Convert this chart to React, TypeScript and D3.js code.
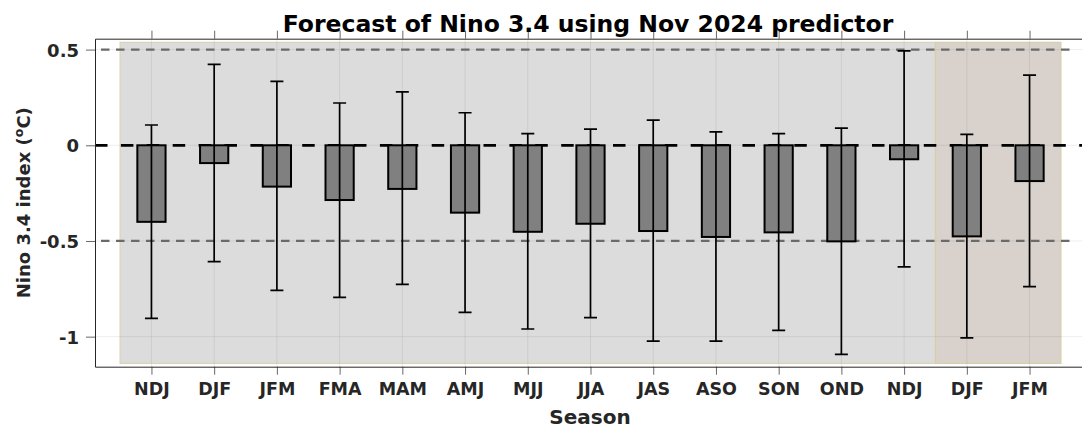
import React, { useEffect, useRef } from "react";
import * as d3 from "d3";

const seasons = ["NDJ", "DJF", "JFM", "FMA", "MAM", "AMJ", "MJJ", "JJA", "JAS", "ASO", "SON", "OND", "NDJ", "DJF", "JFM"];
const forecast = [-0.4, -0.093, -0.216, -0.286, -0.228, -0.352, -0.452, -0.41, -0.448, -0.479, -0.455, -0.502, -0.073, -0.476, -0.187];
const upper = [0.106, 0.423, 0.334, 0.221, 0.279, 0.17, 0.061, 0.084, 0.131, 0.07, 0.061, 0.09, 0.493, 0.057, 0.367];
const lower = [-0.904, -0.608, -0.758, -0.795, -0.727, -0.873, -0.96, -0.901, -1.023, -1.023, -0.967, -1.093, -0.635, -1.006, -0.739];
const yTicks = [-1, -0.5, 0, 0.5];
const yTickLabels = ["-1", "-0.5", "0", "0.5"];

const W = 1082;
const H = 428;
const font = "'DejaVu Sans', sans-serif";

const App = () => {
  const svgRef = useRef(null);

  useEffect(() => {
    const margin = { top: 38.7, left: 95, bottom: 366.7, right: 1086 };
    const svg = d3.select(svgRef.current);
    svg.selectAll("*").remove();

    const x = d3.scaleLinear([0.1, 15.9], [margin.left, margin.right]);
    const y = d3.scaleLinear([-1.157, 0.557], [margin.bottom, margin.top]);
    const idx = seasons.map((_, i) => i + 1);

    svg.append("clipPath").attr("id", "plot-area")
      .append("rect")
      .attr("x", margin.left).attr("y", margin.top)
      .attr("width", margin.right - margin.left).attr("height", margin.bottom - margin.top);

    const plot = svg.append("g").attr("clip-path", "url(#plot-area)");

    // shaded periods
    plot.append("rect")
      .attr("x", x(0.5)).attr("y", y(0.538))
      .attr("width", x(13.5) - x(0.5)).attr("height", y(-1.14) - y(0.538))
      .attr("fill", "#dcdcdc").attr("stroke", "#d9d4b4").attr("stroke-width", 1.2);
    plot.append("rect")
      .attr("x", x(13.5)).attr("y", y(0.538))
      .attr("width", x(15.5) - x(13.5)).attr("height", y(-1.14) - y(0.538))
      .attr("fill", "#d8d1cc").attr("stroke", "#d6cfa8").attr("stroke-width", 1.2);

    // grid
    plot.selectAll(".vgrid").data(idx).join("line")
      .attr("x1", (d) => x(d)).attr("x2", (d) => x(d))
      .attr("y1", margin.top).attr("y2", margin.bottom)
      .attr("stroke", "#262626").attr("stroke-opacity", 0.08).attr("stroke-width", 1);
    plot.selectAll(".hgrid").data(yTicks).join("line")
      .attr("x1", margin.left).attr("x2", margin.right)
      .attr("y1", (d) => y(d)).attr("y2", (d) => y(d))
      .attr("stroke", "#262626").attr("stroke-opacity", 0.08).attr("stroke-width", 1);

    // +-0.5 reference lines
    plot.selectAll(".ref").data([0.5, -0.5]).join("line")
      .attr("x1", margin.left - 9).attr("x2", 1076)
      .attr("y1", (d) => y(d)).attr("y2", (d) => y(d))
      .attr("stroke", "#6a6a6a").attr("stroke-width", 2.2)
      .attr("stroke-dasharray", "8.5,6.5");

    // zero line
    plot.append("line")
      .attr("x1", margin.left).attr("x2", margin.right)
      .attr("y1", y(0)).attr("y2", y(0))
      .attr("stroke", "#000").attr("stroke-width", 2.8)
      .attr("stroke-dasharray", "12.5,13.4");

    // bars
    const bw = x(0.45) - x(0);
    plot.selectAll(".bar").data(forecast).join("rect")
      .attr("x", (_, i) => x(i + 1) - bw / 2)
      .attr("y", (d) => Math.min(y(d), y(0)))
      .attr("width", bw)
      .attr("height", (d) => Math.abs(y(d) - y(0)))
      .attr("fill", "#808080").attr("stroke", "#000").attr("stroke-width", 2);

    // error bars
    const cap = 6.5;
    const eb = plot.selectAll(".err").data(idx).join("g");
    eb.append("line")
      .attr("x1", (d) => x(d)).attr("x2", (d) => x(d))
      .attr("y1", (d) => y(upper[d - 1])).attr("y2", (d) => y(lower[d - 1]))
      .attr("stroke", "#000").attr("stroke-width", 1.7);
    eb.append("line")
      .attr("x1", (d) => x(d) - cap).attr("x2", (d) => x(d) + cap)
      .attr("y1", (d) => y(upper[d - 1])).attr("y2", (d) => y(upper[d - 1]))
      .attr("stroke", "#000").attr("stroke-width", 1.7);
    eb.append("line")
      .attr("x1", (d) => x(d) - cap).attr("x2", (d) => x(d) + cap)
      .attr("y1", (d) => y(lower[d - 1])).attr("y2", (d) => y(lower[d - 1]))
      .attr("stroke", "#000").attr("stroke-width", 1.7);

    // axes
    const xAxis = d3.axisBottom(x).tickValues(idx).tickFormat((d) => seasons[+d - 1])
      .tickSizeInner(8).tickSizeOuter(0).tickPadding(8);
    const gx = svg.append("g").attr("transform", `translate(0,${margin.bottom})`).call(xAxis);
    const xTop = d3.axisTop(x).tickValues(idx).tickFormat(() => "").tickSizeInner(8).tickSizeOuter(0);
    const gxt = svg.append("g").attr("transform", `translate(0,${margin.top})`).call(xTop);
    const yAxis = d3.axisLeft(y).tickValues(yTicks).tickFormat((d, i) => yTickLabels[i])
      .tickSizeInner(9).tickSizeOuter(0).tickPadding(7);
    const gy = svg.append("g").attr("transform", `translate(${margin.left},0)`).call(yAxis);

    [gx, gxt, gy].forEach((g) => {
      g.select(".domain").attr("stroke", "#262626").attr("stroke-width", 1);
      g.selectAll(".tick line").attr("stroke", "#262626").attr("stroke-opacity", 0.7);
      g.selectAll("text")
        .attr("font-family", font).attr("font-weight", "bold")
        .attr("font-size", 18).attr("fill", "#262626");
    });
    gx.selectAll("text").attr("font-size", 17.5);
    gy.selectAll("text").attr("dy", "0.36em");

    // labels
    svg.append("text")
      .attr("x", 588).attr("y", 32)
      .attr("text-anchor", "middle")
      .attr("font-family", font).attr("font-weight", "bold").attr("font-size", 23.5)
      .attr("fill", "#000")
      .text("Forecast of Nino 3.4 using Nov 2024 predictor");

    svg.append("text")
      .attr("x", 590).attr("y", 424)
      .attr("text-anchor", "middle")
      .attr("font-family", font).attr("font-weight", "bold").attr("font-size", 20)
      .attr("fill", "#262626")
      .text("Season");

    const yl = svg.append("text")
      .attr("transform", `translate(30,${(margin.top + margin.bottom) / 2}) rotate(-90)`)
      .attr("text-anchor", "middle")
      .attr("font-family", font).attr("font-weight", "bold").attr("font-size", 18)
      .attr("fill", "#262626");
    yl.append("tspan").text("Nino 3.4 index (");
    yl.append("tspan").attr("font-size", 12.5).attr("dy", "-0.55em").text("o");
    yl.append("tspan").attr("dy", "0.4em").text("C)");
  }, []);

  return (
    <svg ref={svgRef} width={W} height={H}
      style={{ position: "absolute", left: 0, top: 0, background: "#fff" }} />
  );
};

export default App;
